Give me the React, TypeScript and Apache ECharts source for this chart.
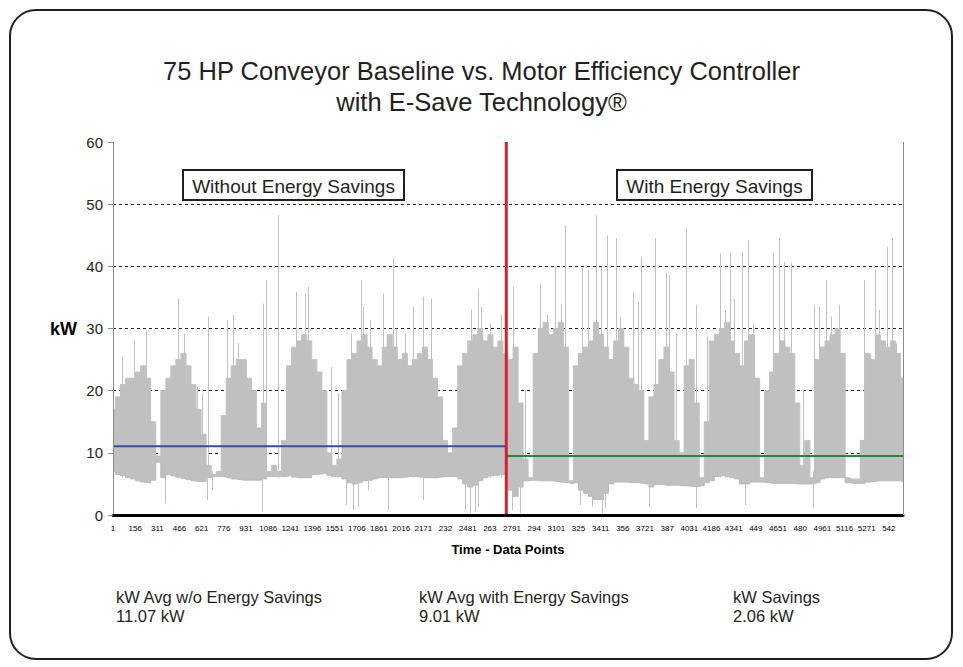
import React, { useEffect, useRef } from "react";
import * as echarts from "echarts";

// ---- data ----
const N_POINTS = 5525;
const TICK_STEP = 155;
const TICK_LABELS = [
  "1", "156", "311", "466", "621", "776", "931", "1086", "1241", "1396", "1551", "1706",
  "1861", "2016", "2171", "232", "2481", "263", "2791", "294", "3101", "325", "3411", "356",
  "3721", "387", "4031", "4186", "4341", "449", "4651", "480", "4961", "5116", "5271", "542",
];
const Y_GRID = [10, 20, 30, 40, 50];

// top of the dense kW trace, one reading per ~5px column (158 columns)
const BODY_HIGH = [
  17, 19, 21, 22, 22, 23, 24, 22, 15, 9.5,
  20, 22, 24, 25, 26, 24, 21, 17, 13, 8,
  6.5, 7, 16, 22, 24, 25, 25, 22, 20, 14,
  18, 7, 8, 7, 12, 24, 27, 28, 29, 28,
  25, 23, 20, 10, 8, 9, 20, 25, 26, 28,
  29, 27, 25, 24, 27, 29, 27, 25, 26, 24,
  25, 26, 27, 25, 22, 19, 12, 10, 14, 24,
  26, 28, 29, 30, 28, 29, 27, 28, 26, 25,
  27, 18, 9, 6, 26, 30, 31, 29, 30, 31,
  27, 5.5, 24, 26, 27, 28, 31, 29, 27, 25,
  28, 30, 27, 22, 21, 20, 12, 19, 21, 25,
  27, 23, 12, 10, 24, 25, 18, 6, 15, 28,
  29, 30, 31, 28, 26, 24, 28, 29, 22, 6,
  20, 23, 26, 28, 27, 26, 18, 8, 12, 6,
  25, 27, 28, 29, 30, 26, 6, 5.8, 5.8, 12,
  26, 25, 29, 28, 27, 28, 26, 22,
];
// bottom (base load) of the kW trace, same columns
const BASE_LOW = [
  7.0, 6.5, 6.3, 6.0, 5.8, 5.5, 5.3, 5.2, 5.6, 8.5,
  6.0, 6.5, 6.3, 6.1, 5.9, 5.7, 5.5, 5.4, 5.4, 6.0,
  6.2, 6.2, 6.2, 6.0, 5.8, 5.7, 5.6, 5.6, 5.6, 5.6,
  5.8, 6.2, 6.2, 6.2, 6.2, 6.3, 6.1, 6.0, 6.0, 6.0,
  6.5, 6.6, 6.7, 6.4, 6.2, 6.2, 5.8, 5.2, 5.0, 5.2,
  5.5, 5.6, 5.8, 6.0, 6.0, 6.0, 6.0, 6.0, 6.1, 6.2,
  6.2, 6.1, 6.0, 6.0, 6.0, 6.1, 6.2, 6.2, 6.2, 5.8,
  5.0, 4.5, 4.8, 5.5, 6.0, 6.3, 6.4, 6.5, 6.6, 4.0,
  3.0, 4.5, 5.5, 5.6, 5.6, 5.5, 5.5, 5.5, 5.4, 5.3,
  5.2, 5.1, 5.2, 4.0, 3.5, 3.0, 2.5, 2.5, 3.5, 5.0,
  5.3, 5.3, 5.3, 5.2, 5.2, 5.1, 5.0, 4.5, 4.9, 4.9,
  4.8, 4.8, 4.8, 4.7, 4.7, 4.6, 4.6, 4.7, 5.2, 5.5,
  6.2, 6.3, 6.2, 6.0, 5.8, 5.0, 5.0, 5.3, 5.3, 5.3,
  5.2, 5.1, 5.1, 5.1, 5.1, 5.1, 5.0, 5.0, 5.0, 5.0,
  5.2, 5.8, 6.0, 6.0, 6.0, 6.0, 5.2, 5.1, 5.1, 5.1,
  5.3, 5.4, 5.5, 5.5, 5.5, 5.5, 5.5, 5.4,
];
// isolated peaks: [data point index, kW]
const SPIKES = [
  [61, 25.5], [147, 28.1], [231, 29.7], [452, 34.8], [496, 29.2], [589, 20.6], [620, 19.6],
  [666, 31.9], [799, 31.4], [837, 32.2], [872, 27.6], [1051, 34.0], [1067, 37.8], [1151, 48.2],
  [1277, 35.9], [1342, 35.6], [1363, 36.7], [1526, 23.8], [1573, 19.6], [1666, 29.2], [1731, 37.8],
  [1748, 33.5], [1794, 31.4], [1887, 35.6], [1957, 41.3], [1980, 30.0], [2039, 29.2], [2097, 33.5],
  [2167, 35.1], [2225, 34.8], [2505, 33.0], [2551, 36.4], [2575, 33.5], [2633, 30.8], [2714, 32.2],
  [2798, 36.7], [2822, 26.8], [2880, 20.1], [2985, 37.2], [3032, 32.2], [3090, 39.9], [3136, 34.0],
  [3164, 46.6], [3281, 39.7], [3322, 39.4], [3376, 48.2], [3409, 39.9], [3451, 45.0], [3514, 44.5],
  [3544, 31.9], [3637, 35.9], [3668, 34.3], [3689, 41.5], [3793, 44.5], [3866, 38.9], [3886, 38.6],
  [3940, 29.2], [4010, 46.1], [4080, 33.8], [4152, 28.7], [4241, 42.1], [4276, 33.0], [4311, 42.1],
  [4339, 34.8], [4399, 42.3], [4439, 44.2], [4474, 30.8], [4613, 42.1], [4660, 44.5], [4695, 40.7],
  [4741, 40.5], [4823, 20.1], [4905, 33.8], [4940, 33.5], [4986, 37.8], [5021, 31.9], [5075, 33.8],
  [5254, 37.8], [5331, 39.4], [5359, 33.0], [5412, 43.1], [5447, 44.5], [5475, 27.6],
];
// isolated drops: [data point index, kW]
const DIPS = [
  [363, 1.9], [655, 2.4], [690, 4.0], [1039, 0.5], [1631, 1.6], [1678, 0.8], [1713, 1.3],
  [1783, 4.0], [1923, 0.8], [2167, 2.4], [2458, 0.8], [2493, 0.3], [2528, 0.5], [2551, 1.3],
  [2787, 0.8], [2845, 0.3], [3264, 1.6], [3346, 1.3], [3416, 0.3], [3439, 1.1], [3747, 1.3],
  [4080, 1.1], [4416, 1.6], [4893, 1.1],
];
const SPLIT_INDEX = 2750;
const AVG_WITHOUT_LEVEL = 11.07;
const AVG_WITH_LEVEL = 9.5;
const SUMMARY_LABELS = ["kW Avg w/o Energy Savings", "kW Avg with Energy Savings", "kW Savings"];
const SUMMARY_VALUES = ["11.07 kW", "9.01 kW", "2.06 kW"];

const FONT = '"Liberation Sans", Arial, Helvetica, sans-serif';
const INK = "#231f20";
const TRACE = "#c0c0c0";

export default function App() {
  const ref = useRef<HTMLDivElement>(null);

  useEffect(() => {
    if (!ref.current) return;
    const chart = echarts.init(ref.current, undefined, { renderer: "svg" });

    const categories = Array.from({ length: N_POINTS }, (_, i) => String(i + 1));
    const colPos = (c: number) => Math.round((c * (N_POINTS - 1)) / (BODY_HIGH.length - 1));
    const bodyData = BODY_HIGH.map((v, c) => [colPos(c), v]);
    const baseData = BASE_LOW.map((v, c) => [colPos(c), v]);
    const strokeData = [
      ...SPIKES.map(([i, v]) => [i, 6, v]),
      ...DIPS.map(([i, v]) => [i, 7, v]),
    ];

    const summaryX = [116, 419, 733];
    const graphics: any[] = [
      {
        type: "rect",
        shape: { x: 10, y: 10, width: 942, height: 649, r: 26 },
        style: { fill: "none", stroke: INK, lineWidth: 2 },
        silent: true,
        z: 0,
      },
      {
        type: "line",
        shape: { x1: 903.5, y1: 142, x2: 903.5, y2: 515 },
        style: { stroke: "#8c8c8c", lineWidth: 1 },
        z: 50,
      },
      {
        type: "group",
        z: 100,
        children: [
          {
            type: "rect",
            shape: { x: 183, y: 170, width: 221, height: 30 },
            style: { fill: "#fff", stroke: INK, lineWidth: 2 },
          },
          {
            type: "text",
            x: 293.5,
            y: 186,
            style: {
              text: "Without Energy Savings",
              fill: INK,
              font: `19px ${FONT}`,
              align: "center",
              verticalAlign: "middle",
            },
          },
          {
            type: "rect",
            shape: { x: 617, y: 170, width: 195, height: 30 },
            style: { fill: "#fff", stroke: INK, lineWidth: 2 },
          },
          {
            type: "text",
            x: 714.5,
            y: 186,
            style: {
              text: "With Energy Savings",
              fill: INK,
              font: `19px ${FONT}`,
              align: "center",
              verticalAlign: "middle",
            },
          },
        ],
      },
      {
        type: "text",
        x: 50,
        y: 329,
        style: { text: "kW", fill: "#000", font: `bold 18px ${FONT}`, verticalAlign: "middle" },
        z: 100,
      },
      {
        type: "text",
        x: 508,
        y: 549,
        style: {
          text: "Time - Data Points",
          fill: "#000",
          font: `bold 13px ${FONT}`,
          align: "center",
          verticalAlign: "middle",
        },
        z: 100,
      },
      ...SUMMARY_LABELS.map((t, i) => ({
        type: "text",
        x: summaryX[i],
        y: 597,
        style: { text: t, fill: INK, font: `16.5px ${FONT}`, verticalAlign: "middle" },
        z: 100,
      })),
      ...SUMMARY_VALUES.map((t, i) => ({
        type: "text",
        x: summaryX[i],
        y: 616,
        style: { text: t, fill: INK, font: `16.5px ${FONT}`, verticalAlign: "middle" },
        z: 100,
      })),
    ];

    chart.setOption({
      animation: false,
      textStyle: { fontFamily: FONT },
      title: {
        text: "75 HP Conveyor Baseline vs. Motor Efficiency Controller\nwith E-Save Technology®",
        left: "center",
        top: 50,
        textStyle: { fontSize: 25.5, fontWeight: "normal", color: INK, lineHeight: 31, fontFamily: FONT },
      },
      grid: { left: 113, right: 60, top: 142, bottom: 152, containLabel: false },
      xAxis: {
        type: "category",
        data: categories,
        boundaryGap: false,
        z: 10,
        axisLine: { show: true, lineStyle: { color: "#000", width: 3 } },
        axisTick: { show: false },
        splitLine: { show: false },
        axisLabel: {
          interval: TICK_STEP - 1,
          fontSize: 8,
          color: "#000",
          margin: 9,
          formatter: (_v: string, index: number) =>
            index % TICK_STEP === 0 ? TICK_LABELS[index / TICK_STEP] ?? "" : "",
        },
      },
      yAxis: {
        type: "value",
        min: 0,
        max: 60,
        interval: 10,
        z: 10,
        axisLine: { show: true, lineStyle: { color: "#8c8c8c", width: 1 } },
        axisTick: { show: true, length: 5, lineStyle: { color: "#8c8c8c" } },
        splitLine: { show: false },
        axisLabel: { fontSize: 15, color: INK, margin: 10 },
      },
      graphic: graphics,
      series: [
        {
          name: "kW (upper)",
          type: "line",
          data: bodyData,
          symbol: "none",
          step: "middle",
          z: 2,
          lineStyle: { color: TRACE, width: 1 },
          areaStyle: { color: TRACE, opacity: 1, origin: "start" },
          markLine: {
            silent: true,
            symbol: "none",
            z: 1,
            label: { show: false },
            lineStyle: { color: "#222", width: 1, type: [3, 3] },
            data: Y_GRID.map((v) => ({ yAxis: v })),
          },
        },
        {
          name: "kW (base)",
          type: "line",
          data: baseData,
          symbol: "none",
          step: "middle",
          z: 2,
          lineStyle: { color: "#b8b8b8", width: 1 },
          areaStyle: { color: "#ffffff", opacity: 1, origin: "start" },
        },
        {
          name: "kW peaks",
          type: "custom",
          z: 3,
          clip: true,
          data: strokeData,
          renderItem: (_p: any, api: any) => {
            const x = api.value(0);
            const a = api.coord([x, api.value(1)]);
            const b = api.coord([x, api.value(2)]);
            const px = Math.round(a[0]) + 0.5;
            return {
              type: "line",
              shape: { x1: px, y1: a[1], x2: px, y2: b[1] },
              style: { stroke: TRACE, lineWidth: 1 },
            };
          },
        },
        {
          name: "Avg without",
          type: "line",
          data: [[0, AVG_WITHOUT_LEVEL], [SPLIT_INDEX, AVG_WITHOUT_LEVEL]],
          symbol: "none",
          z: 4,
          lineStyle: { color: "#2f4fa2", width: 2 },
        },
        {
          name: "Avg with",
          type: "line",
          data: [[SPLIT_INDEX, AVG_WITH_LEVEL], [N_POINTS - 1, AVG_WITH_LEVEL]],
          symbol: "none",
          z: 4,
          lineStyle: { color: "#1e8a3e", width: 2 },
        },
        {
          name: "Split",
          type: "line",
          data: [[SPLIT_INDEX, 0], [SPLIT_INDEX, 60]],
          symbol: "none",
          z: 5,
          lineStyle: { color: "#d2232a", width: 3 },
        },
      ],
    });

    return () => chart.dispose();
  }, []);

  return (
    <div
      ref={ref}
      style={{ position: "fixed", left: 0, top: 0, width: 963, height: 667, background: "#fff" }}
    />
  );
}
